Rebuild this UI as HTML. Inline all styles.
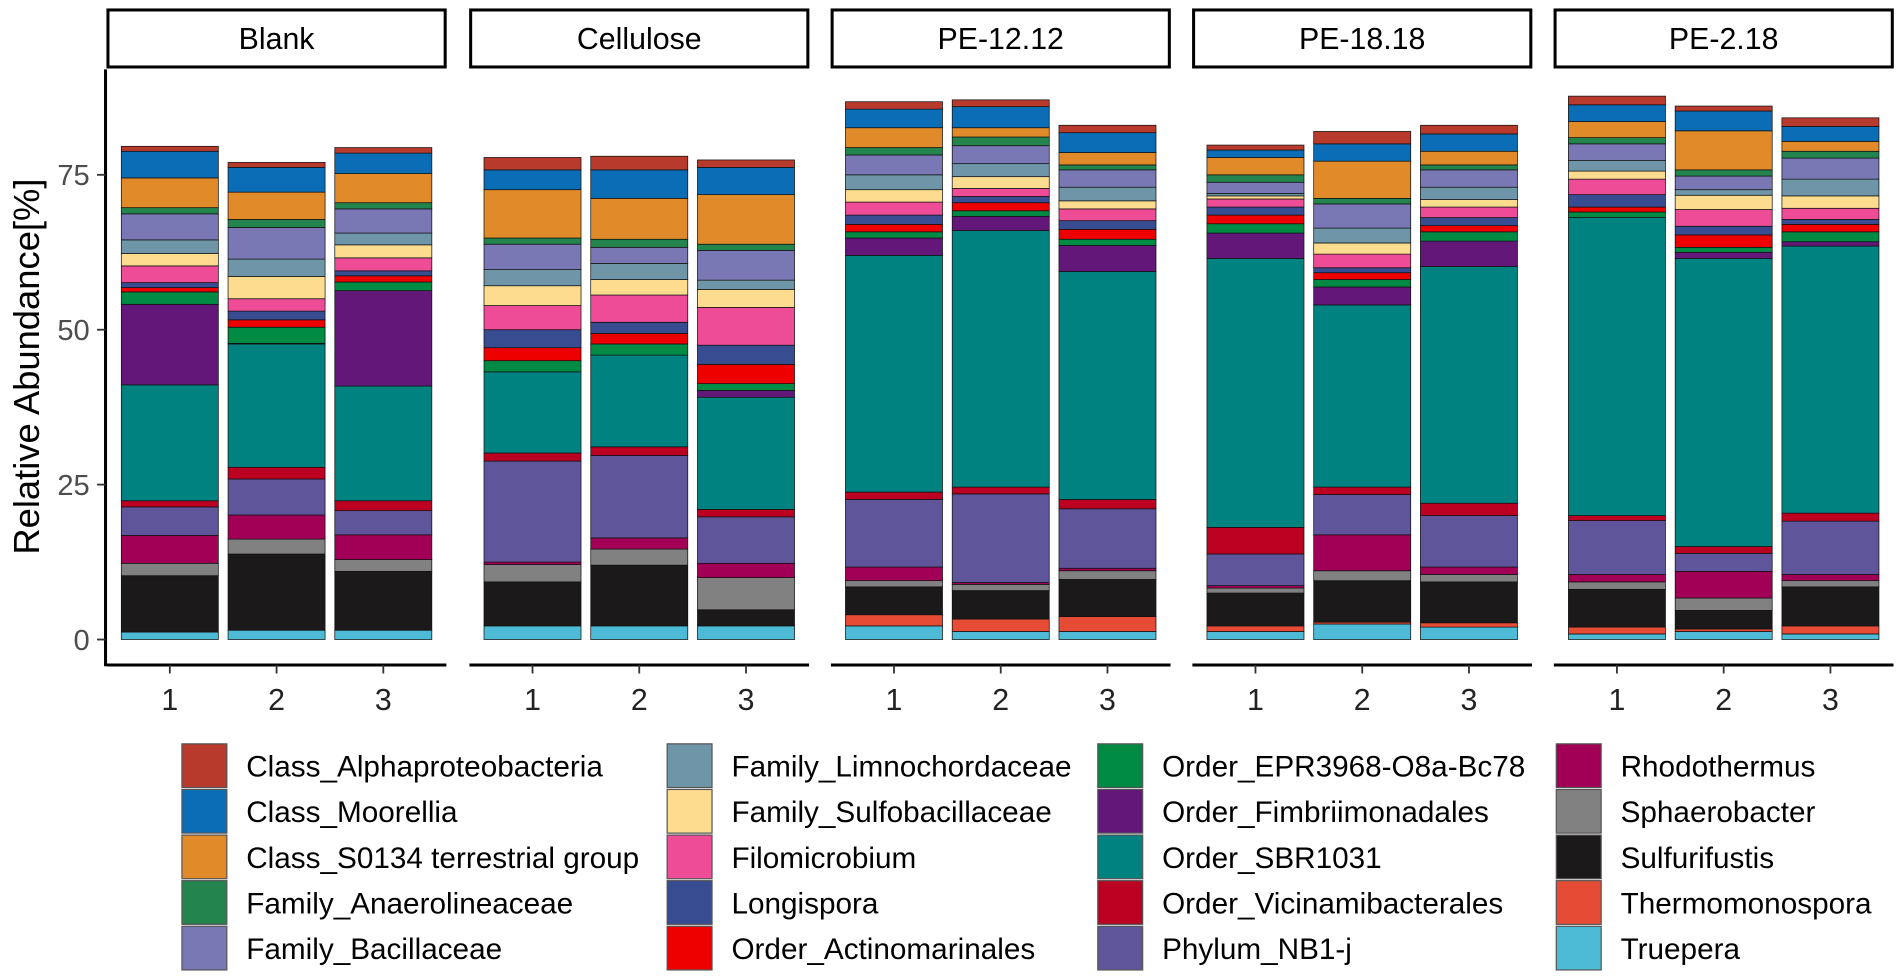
<!DOCTYPE html>
<html><head><meta charset="utf-8"><style>
html,body{margin:0;padding:0;background:#fff;}
svg{display:block;font-family:"Liberation Sans",Arial,sans-serif;}
</style></head><body>
<svg id="chart" width="1902" height="977" viewBox="0 0 1568 805"></svg>
<script>
const taxa = ["Class_Alphaproteobacteria","Class_Moorellia","Class_S0134 terrestrial group","Family_Anaerolineaceae","Family_Bacillaceae","Family_Limnochordaceae","Family_Sulfobacillaceae","Filomicrobium","Longispora","Order_Actinomarinales","Order_EPR3968-O8a-Bc78","Order_Fimbriimonadales","Order_SBR1031","Order_Vicinamibacterales","Phylum_NB1-j","Rhodothermus","Sphaerobacter","Sulfurifustis","Thermomonospora","Truepera"];
const colors = ["#B83A2D","#0B6DB5","#E08A2A","#23844E","#7A78B4","#6E96A8","#FDDC8F","#EE4C97","#384C92","#EE0000","#008B45","#631879","#008280","#BB0021","#5F559B","#A20056","#808180","#1B1919","#E64B35","#4DBBD5"];
const panels = ["Blank","Cellulose","PE-12.12","PE-18.18","PE-2.18"];
const reps = ["1","2","3"];
const yTicks = [0,25,50,75];
// cumulative tops (bottom -> top: Truepera ... Alphaproteobacteria), per sample
const blank1 = [1.2,1.2,10.3,12.3,16.8,21.4,22.4,41.1,54.1,56.1,56.8,57.6,60.3,62.3,64.5,68.7,69.7,74.5,78.8,79.6];
const blank2 = [1.5,1.5,13.8,16.2,20.1,25.9,27.8,47.7,47.8,50.4,51.6,53.0,55.0,58.6,61.4,66.5,67.8,72.2,76.2,77.0];
const blank3 = [1.5,1.5,11.0,12.9,16.9,20.8,22.4,40.9,56.3,57.7,58.7,59.5,61.6,63.7,65.6,69.5,70.5,75.2,78.5,79.4];
const cell1 = [2.2,2.2,9.3,12.1,12.5,28.8,30.1,43.2,43.2,45.0,47.1,50.0,53.9,57.1,59.7,63.8,64.8,72.6,75.8,77.8];
const cell2 = [2.2,2.2,12.0,14.6,16.4,29.7,31.1,45.9,45.9,47.7,49.4,51.2,55.6,58.1,60.7,63.3,64.6,71.2,75.8,78.0];
const cell3 = [2.2,2.2,4.8,10.0,12.3,19.8,21.0,39.1,40.2,41.3,44.4,47.5,53.6,56.5,58.0,62.8,63.8,71.8,76.2,77.4];
const pe1212a = [2.2,4.0,8.5,9.5,11.7,22.6,23.8,62.0,64.8,65.8,67.0,68.5,70.6,72.6,75.0,78.2,79.4,82.6,85.6,86.8];
const pe1212b = [1.3,3.3,7.9,8.9,9.2,23.5,24.6,66.0,68.3,69.2,70.5,71.5,72.8,74.7,76.8,79.7,81.1,82.6,86.0,87.1];
const pe1212c = [1.3,3.7,9.7,11.1,11.5,21.1,22.6,59.4,63.6,64.6,66.2,67.6,69.5,70.8,73.0,75.8,76.6,78.6,81.8,83.0];
const pe1818a = [1.3,2.2,7.5,8.3,8.7,13.8,18.1,61.5,65.6,67.1,68.5,69.8,71.1,71.6,72.0,73.8,75.0,77.8,79.0,79.8];
const pe1818b = [2.5,2.8,9.5,11.1,16.9,23.4,24.6,54.0,56.9,58.1,59.2,60.0,62.2,64.0,66.4,70.3,71.2,77.2,80.0,82.0];
const pe1818c = [2.0,2.7,9.3,10.5,11.7,20.0,22.0,60.2,64.3,65.8,66.8,68.1,69.8,71.0,73.0,75.8,76.6,78.8,81.6,83.0];
const pe218a = [0.9,2.0,8.1,9.3,10.5,19.2,20.0,68.1,68.1,69.0,69.8,71.8,74.3,75.6,77.3,80.0,81.0,83.6,86.3,87.7];
const pe218b = [1.3,1.7,4.7,6.7,11.0,13.9,15.0,61.5,62.5,63.3,65.3,66.7,69.4,71.7,72.6,74.8,75.8,82.1,85.3,86.1];
const pe218c = [0.9,2.2,8.5,9.5,10.5,19.1,20.4,63.5,64.2,65.8,67.0,67.8,69.6,71.6,74.3,77.7,78.8,80.4,82.8,84.2];
const samples = [[blank1,blank2,blank3],[cell1,cell2,cell3],[pe1212a,pe1212b,pe1212c],[pe1818a,pe1818b,pe1818c],[pe218a,pe218b,pe218c]];

const NS="http://www.w3.org/2000/svg";
const svg=document.getElementById('chart');
function mk(tag,attrs,parent){const e=document.createElementNS(NS,tag);for(const k in attrs)e.setAttribute(k,attrs[k]);(parent||svg).appendChild(e);return e;}
const y0=527, pxPer=127.7/25;
function yScale(v){return y0-v*pxPer;}
const panelX=[88,387,685,983,1281], panelW=280;
function xBar(p,i){return panelX[p]+12+i*88;}

let ya=mk('line',{x1:87,y1:57,x2:87,y2:549,stroke:'#000','stroke-width':2.5});


yTicks.forEach(t=>{
  const tk=mk('line',{x1:80,x2:87,y1:yScale(t),y2:yScale(t),stroke:'#333','stroke-width':1.5});
  
  
  const tl=mk('text',{x:74,y:yScale(t)+8.5,'text-anchor':'end','font-size':24,fill:'#4D4D4D'});
  tl.textContent=t;
  
  
});
const yt=mk('text',{x:0,y:0,'font-size':30,'text-anchor':'middle',transform:'translate(32,302) rotate(-90)'});
yt.textContent='Relative Abundance[%]';



panels.forEach((pn,p)=>{
  const g=mk('g',{});
  
  
  const sr=mk('rect',{x:panelX[p]+1,y:8,width:panelW-2,height:47,fill:'#fff',stroke:'#000','stroke-width':2.5},g);
  
  
  const st=mk('text',{x:panelX[p]+panelW/2,y:40,'text-anchor':'middle','font-size':25},g);
  st.textContent=pn;
  
  
  const xl=mk('line',{x1:panelX[p],x2:panelX[p]+panelW,y1:548,y2:548,stroke:'#000','stroke-width':2.5},g);
  
  
  reps.forEach((r,i)=>{
    const data=samples[p][i];
    const x=xBar(p,i);
    for(let k=0;k<data.length;k++){
      const lo=k===0?0:data[k-1], hi=data[k];
      if(hi-lo<=0)continue;
      const ti=taxa.length-1-k;
      const rc=mk('rect',{x:x,y:yScale(hi),width:80,height:(hi-lo)*pxPer,fill:colors[ti],stroke:'#111','stroke-width':0.6},g);
      
      
    }
    const tk=mk('line',{x1:x+40,x2:x+40,y1:548,y2:555,stroke:'#333','stroke-width':1.5},g);
    
    
    const tl=mk('text',{x:x+40,y:585,'text-anchor':'middle','font-size':25,fill:'#222'},g);
    tl.textContent=r;
    
    
  });
});

const colKeyX=[150,550,905,1283];
taxa.forEach((t,i)=>{
  const c=Math.floor(i/5), r=i%5;
  const ky=613+r*37.6;
  const g=mk('g',{});
  
  
  const kr=mk('rect',{x:colKeyX[c],y:ky,width:37,height:36,fill:colors[i],stroke:'#555','stroke-width':1},g);
  
  
  const tx=mk('text',{x:colKeyX[c]+53,y:ky+27,'font-size':24.5},g);
  tx.textContent=t;
  
  
});
</script>
</body></html>
